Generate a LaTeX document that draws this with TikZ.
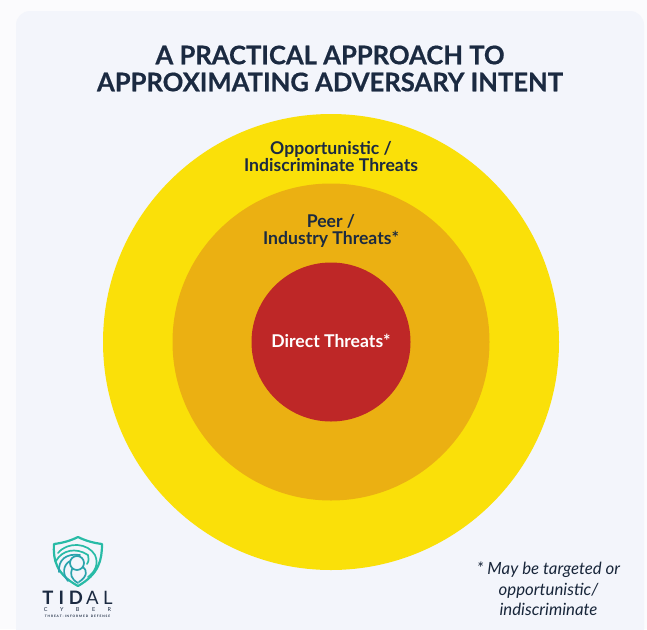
\documentclass[tikz,border=0pt]{standalone}
\usepackage{fontspec}
\setmainfont{Lato}
\newfontfamily\titlefont{Lato}[BoldFeatures={FakeBold=0.6}]
\definecolor{bgcard}{HTML}{F3F5FB}
\definecolor{bgouter}{HTML}{FBFBFD}
\definecolor{ring1}{HTML}{FAE009}
\definecolor{ring2}{HTML}{EBB012}
\definecolor{ring3}{HTML}{BE2727}
\definecolor{ink}{HTML}{1B2A41}
\definecolor{tealA}{HTML}{28BBA6}
\definecolor{tealB}{HTML}{2AA3AC}
\tikzset{
  ringlabel/.style={align=center,text=ink,font=\bfseries\fontsize{17.6}{17.8}\selectfont,inner sep=0pt},
  logoline/.style={draw=tealB,line width=1.7pt,line join=round,line cap=round},
}
\begin{document}
\begin{tikzpicture}[x=1pt,y=-1pt]
\useasboundingbox (0,0) rectangle (647,629);
\fill[bgouter] (0,0) rectangle (647,629);
\fill[bgcard,rounded corners=14pt] (16,11) rectangle (644,650);
% circles
\node[circle,fill=ring1,minimum size=456pt,inner sep=0pt] (outer) at (331,342) {};
\node[circle,fill=ring2,minimum size=317pt,inner sep=0pt] (mid) at (331,342) {};
\node[circle,fill=ring3,minimum size=159pt,inner sep=0pt] (inner) at (331,342) {};
% title
\node[align=center,text=ink,inner sep=0pt,font=\titlefont\bfseries\fontsize{25.6}{27}\selectfont] (title) at (330,68.5) {A PRACTICAL APPROACH TO\\APPROXIMATING ADVERSARY INTENT};
\node[ringlabel] (l1) at (331,156.5) {Opportunistic /\\Indiscriminate Threats};
\node[ringlabel] (l2) at (331,231) {Peer /\\Industry Threats*};
\node[ringlabel,text=white] (l3) at (331,341) {Direct Threats*};
\node[align=center,text=ink!90!black,inner sep=0pt,font=\itshape\fontsize{16.8}{20.5}\selectfont] (note) at (548.5,589) {* May be targeted or\\opportunistic/\\indiscriminate};
% logo
\draw[logoline,draw=tealA,line width=2.2pt] (78,537) .. controls (70,541) and (62,543) .. (54,544) .. controls (53,560) and (56,574) .. (78,586) .. controls (99,574) and (102,560) .. (102,544) .. controls (94,543) and (86,541) .. (78,537) -- cycle;
\draw[logoline,draw=tealA] (58,553) .. controls (68,541) and (88,543) .. (95,555) .. controls (99,564) and (95,572) .. (88,577);
\draw[logoline,draw=tealA] (56,561) .. controls (62,550) and (76,547) .. (88,555) .. controls (89,558) and (89,561) .. (87,564);
\node[circle,draw=tealB,line width=1.7pt,minimum size=14pt,inner sep=0pt] (hub) at (77,563) {};
\draw[logoline] (59,572) .. controls (58,560) and (66,553) .. (80,555);
\draw[logoline] (68,581) .. controls (62,574) and (63,565) .. (70,561);
\draw[logoline] (78,583) .. controls (71,579) and (70,574) .. (72,569);
\draw[logoline] (79,582) .. controls (88,576) and (87,570) .. (83,567);
\node[inner sep=0pt,text=ink,font=\fontsize{18.5}{19}\selectfont] (tidal) at (77.5,597.5) {\textbf{T\kern5pt I\kern5pt D}\kern3pt A\kern4.5pt L};
\node[inner sep=0pt,text=ink,font=\fontsize{5.5}{6}\selectfont] (cyber) at (77.5,610) {C\kern12.5pt Y\kern12.5pt B\kern12.5pt E\kern12.5pt R};
\node[inner sep=0pt,text=ink,font=\bfseries\fontsize{3.2}{4}\selectfont] (tag) at (77.5,616.5) {T\kern.9pt H\kern.9pt R\kern.9pt E\kern.9pt A\kern.9pt T\kern.9pt -\kern.9pt I\kern.9pt N\kern.9pt F\kern.9pt O\kern.9pt R\kern.9pt M\kern.9pt E\kern.9pt D\kern2.5pt D\kern.9pt E\kern.9pt F\kern.9pt E\kern.9pt N\kern.9pt S\kern.9pt E};
\end{tikzpicture}
\end{document}
